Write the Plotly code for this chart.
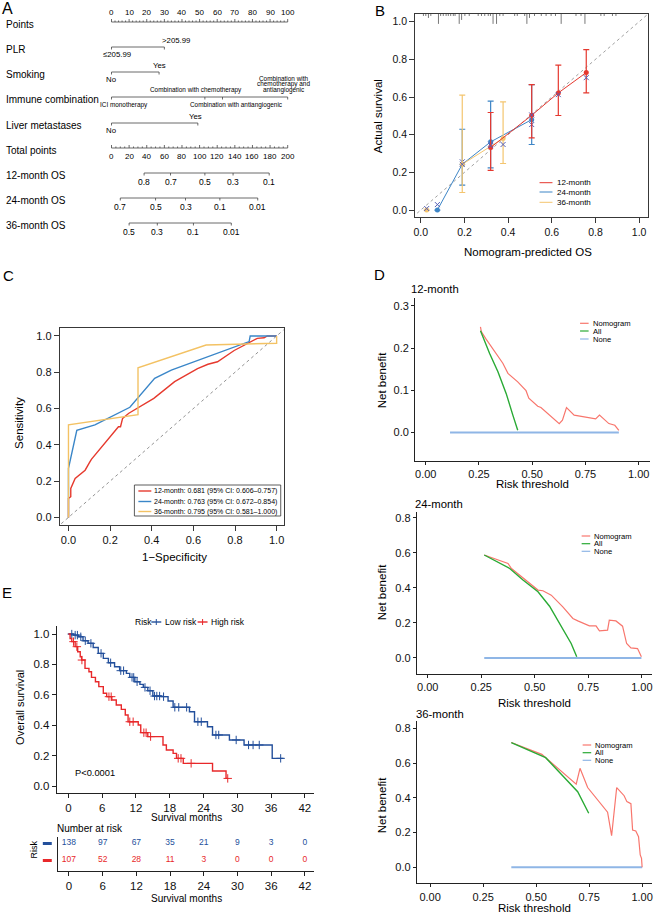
import numpy as np
import plotly.graph_objects as go

W, H = 658, 915
FONT = "Liberation Sans, Arial, Helvetica, sans-serif"

# ======================= DATA =======================
# ---- A: nomogram ----
points_ticks = [0, 10, 20, 30, 40, 50, 60, 70, 80, 90, 100]
plr_levels = ["≤205.99", ">205.99"]
plr_points = [0, 30]
smoking_levels = ["No", "Yes"]
smoking_points = [0, 27]
immune_levels = ["ICI monotherapy", "Combination with chemotherapy",
                 "Combination with antiangiogenic",
                 "Combination with<br>chemotherapy and<br>antiangiogenic"]
immune_points = [0, 53, 63, 100]
liver_levels = ["No", "Yes"]
liver_points = [0, 49]
total_ticks = [0, 20, 40, 60, 80, 100, 120, 140, 160, 180, 200]
os12_labels = ["0.8", "0.7", "0.5", "0.3", "0.1"]
os12_total = [37, 67, 106, 138, 179]
os24_labels = ["0.7", "0.5", "0.3", "0.1", "0.01"]
os24_total = [10, 50, 84, 123, 166]
os36_labels = ["0.5", "0.3", "0.1", "0.01"]
os36_total = [20, 52, 93, 136]

# ---- B: calibration ----
cal12_pred = [0.320, 0.508, 0.630, 0.758]
cal12_obs = [0.332, 0.503, 0.622, 0.730]
cal12_lo = [0.211, 0.383, 0.502, 0.622]
cal12_hi = [0.518, 0.666, 0.769, 0.852]
cal12_bc = [0.342, 0.505, 0.613, 0.703]
cal24_pred = [0.076, 0.190, 0.320, 0.508]
cal24_obs = [0.000, 0.243, 0.362, 0.480]
cal24_lo = [0.000, 0.132, 0.224, 0.348]
cal24_hi = [0.000, 0.429, 0.578, 0.666]
cal24_bc = [0.029, 0.256, 0.350, 0.454]
cal36_pred = [0.027, 0.190, 0.377]
cal36_obs = [0.000, 0.243, 0.380]
cal36_lo = [0.000, 0.093, 0.247]
cal36_hi = [0.000, 0.610, 0.574]
cal36_bc = [0.008, 0.243, 0.348]
rug_pred = [0.012, 0.023, 0.035, 0.046, 0.081, 0.091, 0.103, 0.116, 0.126, 0.137,
            0.149, 0.157, 0.176, 0.187, 0.202, 0.222, 0.263, 0.278, 0.293, 0.309,
            0.319, 0.331, 0.347, 0.362, 0.377, 0.430, 0.442, 0.476, 0.486, 0.498,
            0.521, 0.552, 0.574, 0.597, 0.617, 0.643, 0.711, 0.734, 0.752, 0.825,
            0.840, 0.878, 0.894]
rug_count = [1, 1, 2, 1, 5, 1, 1, 1, 1, 1,
             1, 1, 5, 3, 1, 1, 1, 1, 1, 1,
             1, 5, 5, 1, 1, 1, 1, 1, 5, 2,
             1, 1, 1, 1, 1, 5, 1, 1, 5, 1,
             1, 1, 1]

# ---- C: ROC ----
roc12_fpr = [0, 0, 0.011, 0.011, 0.032, 0.08, 0.10, 0.11, 0.24, 0.25, 0.26, 0.29, 0.41,
             0.51, 0.62, 0.67, 0.716, 0.796, 0.907, 0.94, 0.955, 1.0]
roc12_tpr = [0, 0.105, 0.114, 0.16, 0.215, 0.26, 0.30, 0.32, 0.50, 0.50, 0.546, 0.574, 0.656,
             0.748, 0.82, 0.844, 0.858, 0.92, 0.987, 0.99, 1.0, 1.0]
roc24_fpr = [0, 0, 0.04, 0.127, 0.295, 0.414, 0.494, 0.868, 0.873, 1.0]
roc24_tpr = [0, 0.27, 0.48, 0.51, 0.607, 0.767, 0.812, 0.969, 1.0, 1.0]
roc36_fpr = [0, 0, 0.334, 0.334, 0.661, 1.0, 1.0]
roc36_tpr = [0, 0.51, 0.566, 0.825, 0.95, 0.96, 1.0]
roc_labels = ["12-month: 0.681 (95% CI: 0.606–0.757)",
              "24-month: 0.763 (95% CI: 0.672–0.854)",
              "36-month: 0.795 (95% CI: 0.581–1.000)"]

# ---- D: decision curves ----
dca12_nom_x = [0.257, 0.261, 0.281, 0.292, 0.362, 0.386, 0.432, 0.471, 0.484, 0.526, 0.541,
               0.627, 0.642, 0.661, 0.697, 0.798, 0.816, 0.860, 0.888, 0.907]
dca12_nom_y = [0.250, 0.239, 0.223, 0.215, 0.164, 0.140, 0.120, 0.099, 0.081, 0.062, 0.059,
               0.021, 0.029, 0.059, 0.041, 0.032, 0.041, 0.021, 0.017, 0.005]
dca12_all_x = [0.257, 0.300, 0.339, 0.378, 0.409, 0.432]
dca12_all_y = [0.241, 0.187, 0.144, 0.092, 0.041, 0.005]
dca12_none_x = [0.114, 0.907]
dca24_nom_x = [0.264, 0.375, 0.391, 0.515, 0.538, 0.577, 0.631, 0.678, 0.701, 0.755, 0.786,
               0.802, 0.840, 0.848, 0.879, 0.910, 0.929, 0.949, 0.980, 0.998]
dca24_nom_y = [0.587, 0.539, 0.510, 0.387, 0.383, 0.358, 0.291, 0.225, 0.211, 0.183, 0.183,
               0.154, 0.158, 0.215, 0.211, 0.181, 0.082, 0.057, 0.053, 0.006]
dca24_all_x = [0.264, 0.383, 0.445, 0.515, 0.569, 0.631, 0.670, 0.696]
dca24_all_y = [0.587, 0.510, 0.444, 0.377, 0.295, 0.168, 0.082, 0.006]
dca24_none_x = [0.264, 0.998]
dca36_nom_x = [0.383, 0.527, 0.689, 0.707, 0.743, 0.837, 0.856, 0.880, 0.915, 0.928, 0.947,
               0.955, 0.970, 0.983, 0.991, 0.997, 1.000]
dca36_nom_y = [0.718, 0.650, 0.478, 0.570, 0.459, 0.317, 0.182, 0.459, 0.412, 0.378, 0.366,
               0.215, 0.209, 0.176, 0.071, 0.052, 0.000]
dca36_all_x = [0.383, 0.545, 0.696, 0.748]
dca36_all_y = [0.718, 0.631, 0.435, 0.311]
dca36_none_x = [0.383, 1.000]

# ---- E: Kaplan-Meier ----
km_low_t = [0, 0.9, 1.8, 2.6, 3.5, 4.4, 5.3, 6.2, 7.1, 8.2, 9.1, 10.3, 10.9, 11.8, 12.7,
            13.3, 14.1, 15.0, 16.5, 17.7, 18.6, 21.5, 22.4, 24.7, 25.6, 28.6, 31.2, 36.2]
km_low_s = [1.0, 0.993, 0.982, 0.956, 0.939, 0.912, 0.873, 0.84, 0.811, 0.785, 0.759, 0.741,
            0.715, 0.686, 0.669, 0.649, 0.627, 0.592, 0.588, 0.559, 0.518, 0.489, 0.423,
            0.39, 0.336, 0.303, 0.27, 0.182]
km_low_end = 38.2
km_low_cens = [0.6, 1.2, 1.6, 2.2, 3.0, 4.0, 5.8, 7.5, 9.3, 9.8, 11.3, 11.6, 12.2, 13.6,
               14.5, 15.3, 15.7, 16.2, 16.9, 18.9, 19.6, 21.0, 23.0, 23.6, 26.2, 26.7,
               29.8, 32.0, 32.8, 33.9, 37.7]
km_high_t = [0, 0.3, 0.6, 1.2, 1.65, 2.1, 2.35, 2.95, 3.65, 4.1, 4.8, 5.4, 6.2, 6.8, 7.7,
             8.5, 9.4, 10.1, 10.6, 12.4, 12.85, 14.1, 16.8, 17.4, 18.6, 19.2, 20.4, 25.6, 28.0]
km_high_s = [1.0, 0.971, 0.95, 0.917, 0.884, 0.851, 0.829, 0.774, 0.752, 0.715, 0.686,
             0.654, 0.61, 0.588, 0.566, 0.533, 0.504, 0.467, 0.423, 0.401, 0.351, 0.325,
             0.27, 0.237, 0.215, 0.182, 0.149, 0.099, 0.05]
km_high_end = 28.3
km_high_cens = [0.9, 1.5, 2.4, 7.2, 7.6, 10.9, 11.5, 13.4, 13.8, 14.6, 19.5, 20.0, 21.8, 28.3]
risk_times = [0, 6, 12, 18, 24, 30, 36, 42]
risk_low = [138, 97, 67, 35, 21, 9, 3, 0]
risk_high = [107, 52, 28, 11, 3, 0, 0, 0]

# ======================= FIGURE =======================
fig = go.Figure()
ann, shp = [], []


def A(text, x, y, xref="paper", yref="paper", size=10, xanchor="center",
      yanchor="middle", color="black", angle=0, xshift=0):
    if xref == "paper":
        x = x / W
    if yref == "paper":
        y = 1 - y / H
    ann.append(dict(text=text, x=x, y=y, xref=xref, yref=yref, showarrow=False,
                    font=dict(family=FONT, size=size, color=color), xanchor=xanchor,
                    yanchor=yanchor, textangle=angle, xshift=xshift, borderpad=0))


def seg_trace(segs, xa, ya, color="#444", width=0.8):
    xs, ys = [], []
    for x0, y0, x1, y1 in segs:
        xs += [x0, x1, None]
        ys += [y0, y1, None]
    fig.add_trace(go.Scatter(x=xs, y=ys, mode="lines", line=dict(color=color, width=width),
                             xaxis=xa, yaxis=ya, showlegend=False, hoverinfo="skip"))


def pline(x0, y0, x1, y1, color, width=1.2, dash=None):
    shp.append(dict(type="line", xref="paper", yref="paper", x0=x0 / W, x1=x1 / W,
                    y0=1 - y0 / H, y1=1 - y1 / H, line=dict(color=color, width=width, dash=dash)))


# ---------------- Panel A: nomogram ----------------
ROW = {"Points": 22, "PLR": 47, "Smoking": 72, "Immune combination": 97,
       "Liver metastases": 123, "Total points": 148, "12-month OS": 173,
       "24-month OS": 198, "36-month OS": 223}
for name, yy in ROW.items():
    A(name, 3, yy + 2, yref="y", size=10, xanchor="left")

# Points axis
segs = [(0, ROW["Points"], 100, ROW["Points"])]
segs += [(t, ROW["Points"], t, ROW["Points"] - 3) for t in points_ticks]
segs += [(t, ROW["Points"], t, ROW["Points"] - 1.5) for t in range(0, 101, 2) if t % 10]
seg_trace(segs, "x", "y")
for t in points_ticks:
    A(str(t), t, ROW["Points"] - 4, xref="x", yref="y", size=8, yanchor="bottom")


def level_row(yline, pts, labels, shifts, size):
    s = [(min(pts), yline, max(pts), yline)] + [(p, yline, p, yline + 2.5) for p in pts]
    seg_trace(s, "x", "y")
    for i, (p, lab, sh) in enumerate(zip(pts, labels, shifts)):
        lines = lab.split("<br>")
        n = len(lines)
        for k, ln in enumerate(lines):
            if i % 2 == 0:
                yc = yline + 7.5 + 6 * k
            else:
                yc = yline - 7 - 6 * (n - 1 - k)
            A(ln, p, yc, xref="x", yref="y", size=size, xshift=sh)


level_row(ROW["PLR"], plr_points, plr_levels, [5, 12], 7.8)
level_row(ROW["Smoking"], smoking_points, smoking_levels, [0, 0], 7.8)
level_row(ROW["Immune combination"], immune_points, immune_levels, [12, -9, 14, -4], 6.4)
level_row(ROW["Liver metastases"], liver_points, liver_levels, [0, -2], 7.8)

# Total points axis (on overlay axis x2)
yt = ROW["Total points"]
segs = [(0, yt, 200, yt)]
segs += [(t, yt, t, yt - 3) for t in total_ticks]
segs += [(t, yt, t, yt - 1.5) for t in range(0, 201, 5) if t % 20]
seg_trace(segs, "x2", "y")
for t in total_ticks:
    A(str(t), t, yt + 3, xref="x2", yref="y", size=8, yanchor="top")


def os_row(yline, totals, labels):
    s = [(min(totals), yline, max(totals), yline)] + [(t, yline, t, yline + 2.5) for t in totals]
    seg_trace(s, "x2", "y")
    for t, lab in zip(totals, labels):
        A(lab, t, yline + 3, xref="x2", yref="y", size=8.5, yanchor="top")


os_row(ROW["12-month OS"], os12_total, os12_labels)
os_row(ROW["24-month OS"], os24_total, os24_labels)
os_row(ROW["36-month OS"], os36_total, os36_labels)

# ---------------- Panel B: calibration ----------------
C_RED, C_BLUE, C_YEL, C_X = "#e5382f", "#3d85c6", "#f4c56f", "#5560b8"
fig.add_trace(go.Scatter(x=[-0.1, 1.1], y=[-0.1, 1.1], mode="lines", xaxis="x3", yaxis="y3",
                         line=dict(color="#888", width=0.8, dash="dot"), showlegend=False))
rug_top = 1.041
seg_trace([(x, rug_top, x, rug_top - 0.0105 * n) for x, n in zip(rug_pred, rug_count)],
          "x3", "y3", color="#555", width=0.8)


def cal_series(pred, obs, lo, hi, bc, color, line_from=0):
    fig.add_trace(go.Scatter(x=pred[line_from:], y=obs[line_from:], mode="lines",
                             line=dict(color=color, width=1), xaxis="x3", yaxis="y3",
                             showlegend=False, hoverinfo="skip"))
    plus = [h - o if h > o else None for h, o in zip(hi, obs)]
    minus = [o - l if h > o else None for h, o, l in zip(hi, obs, lo)]
    fig.add_trace(go.Scatter(x=pred, y=obs, mode="markers",
                             marker=dict(color=color, size=5),
                             error_y=dict(type="data", array=plus, arrayminus=minus,
                                          symmetric=False, color=color, thickness=1.2, width=3),
                             xaxis="x3", yaxis="y3", showlegend=False))
    fig.add_trace(go.Scatter(x=pred, y=bc, mode="markers",
                             marker=dict(symbol="x-thin-open", size=5, color=C_X,
                                         line=dict(color=C_X, width=1)),
                             xaxis="x3", yaxis="y3", showlegend=False))


cal_series(cal24_pred, cal24_obs, cal24_lo, cal24_hi, cal24_bc, C_BLUE)
cal_series(cal36_pred, cal36_obs, cal36_lo, cal36_hi, cal36_bc, C_YEL, line_from=1)
cal_series(cal12_pred, cal12_obs, cal12_lo, cal12_hi, cal12_bc, C_RED)

for lab, col, yy in zip(["12-month", "24-month", "36-month"], [C_RED, C_BLUE, C_YEL],
                        [182.7, 192, 202.3]):
    pline(540, yy, 553, yy, col, 1)
    A(lab, 556.5, yy, size=8, xanchor="left")

# ---------------- Panel C: ROC ----------------
R_RED, R_BLUE, R_YEL = "#e63a2e", "#3a86c8", "#f3c264"
fig.add_trace(go.Scatter(x=[-0.1, 1.1], y=[-0.1, 1.1], mode="lines", xaxis="x4", yaxis="y4",
                         line=dict(color="#777", width=0.8, dash="dot"), showlegend=False))
for fx, ty, col in [(roc12_fpr, roc12_tpr, R_RED), (roc24_fpr, roc24_tpr, R_BLUE),
                    (roc36_fpr, roc36_tpr, R_YEL)]:
    fig.add_trace(go.Scatter(x=fx, y=ty, mode="lines", line=dict(color=col, width=1.4),
                             xaxis="x4", yaxis="y4", showlegend=False))
shp.append(dict(type="rect", xref="paper", yref="paper", x0=133 / W, x1=280 / W,
                y0=1 - 516 / H, y1=1 - 485 / H, line=dict(color="#333", width=0.8),
                fillcolor="white"))
for lab, col, yy in zip(roc_labels, [R_RED, R_BLUE, R_YEL], [491, 501.5, 511.5]):
    pline(137, yy, 150, yy, col, 1.4)
    A(lab, 152, yy, size=7, xanchor="left")

# ---------------- Panel D: decision curves ----------------
D_NOM, D_ALL, D_NONE = "#f8766d", "#2aaa35", "#8fb6e6"
for (nx, ny, ax_, ay_, nonex, xa, ya) in [
        (dca12_nom_x, dca12_nom_y, dca12_all_x, dca12_all_y, dca12_none_x, "x5", "y5"),
        (dca24_nom_x, dca24_nom_y, dca24_all_x, dca24_all_y, dca24_none_x, "x6", "y6"),
        (dca36_nom_x, dca36_nom_y, dca36_all_x, dca36_all_y, dca36_none_x, "x7", "y7")]:
    fig.add_trace(go.Scatter(x=nonex, y=[0, 0], mode="lines", line=dict(color=D_NONE, width=2),
                             xaxis=xa, yaxis=ya, showlegend=False))
    fig.add_trace(go.Scatter(x=nx, y=ny, mode="lines", line=dict(color=D_NOM, width=1.2),
                             xaxis=xa, yaxis=ya, showlegend=False))
    fig.add_trace(go.Scatter(x=ax_, y=ay_, mode="lines", line=dict(color=D_ALL, width=1.4),
                             xaxis=xa, yaxis=ya, showlegend=False))

for (x0, ys) in [(580.7, [323.3, 331, 339]), (582.3, [536, 543.7, 551.3]),
                 (583.3, [745, 752.7, 760.3])]:
    for lab, col, yy in zip(["Nomogram", "All", "None"], [D_NOM, D_ALL, D_NONE], ys):
        pline(x0, yy, x0 + 8.6, yy, col, 1.2)
        A(lab, x0 + 11.5, yy, size=7.6, xanchor="left")

A("12-month", 410, 289, size=11.3, xanchor="left")
A("24-month", 414, 504, size=11.3, xanchor="left")
A("36-month", 415, 714, size=11.3, xanchor="left")
for yc in [380, 592, 805]:
    A("Net benefit", 382, yc, size=11.5, angle=-90)
A("Risk threshold", 533, 484, size=11.5)
A("Risk threshold", 535, 703, size=11.5)
A("Risk threshold", 535, 908, size=11.5)

# ---------------- Panel E: Kaplan-Meier ----------------
E_BLUE, E_RED = "#234f9b", "#e8282a"


def km_series(t, s, tend, cens, col):
    fig.add_trace(go.Scatter(x=t + [tend], y=s + [s[-1]], mode="lines", line_shape="hv",
                             line=dict(color=col, width=1.4), xaxis="x8", yaxis="y8",
                             showlegend=False))
    ta, sa = np.array(t), np.array(s)
    cy = [float(sa[np.searchsorted(ta, c, side="right") - 1]) for c in cens]
    fig.add_trace(go.Scatter(x=cens, y=cy, mode="markers",
                             marker=dict(symbol="cross-thin-open", size=6, color=col,
                                         line=dict(color=col, width=1)),
                             xaxis="x8", yaxis="y8", showlegend=False))


km_series(km_low_t, km_low_s, km_low_end, km_low_cens, E_BLUE)
km_series(km_high_t, km_high_s, km_high_end, km_high_cens, E_RED)

fig.add_trace(go.Scatter(x=risk_times, y=[1] * len(risk_times), mode="text",
                         text=[str(v) for v in risk_low],
                         textfont=dict(family=FONT, size=8.5, color=E_BLUE),
                         xaxis="x9", yaxis="y9", showlegend=False))
fig.add_trace(go.Scatter(x=risk_times, y=[0] * len(risk_times), mode="text",
                         text=[str(v) for v in risk_high],
                         textfont=dict(family=FONT, size=8.5, color=E_RED),
                         xaxis="x9", yaxis="y9", showlegend=False))

# E legend
A("Risk", 133, 622, size=8.5, xanchor="left")
pline(150, 622, 160, 622, E_BLUE, 1.4)
pline(155, 619, 155, 625, E_BLUE, 1)
A("Low risk", 162.5, 622, size=8.5, xanchor="left")
pline(196.5, 622, 206.5, 622, E_RED, 1.4)
pline(201.5, 619, 201.5, 625, E_RED, 1)
A("High risk", 208.5, 622, size=8.5, xanchor="left")
A("P<0.0001", 72, 772.7, size=9.3, xanchor="left")
A("Overall survival", 18, 707, size=11, angle=-90)
A("Survival months", 185, 817.5, size=10)
A("Number at risk", 54, 828.8, size=10, xanchor="left")
shp.append(dict(type="rect", xref="paper", yref="paper", x0=41 / W, x1=50 / W,
                y0=1 - 845 / H, y1=1 - 842 / H, line=dict(width=0), fillcolor=E_BLUE))
shp.append(dict(type="rect", xref="paper", yref="paper", x0=41 / W, x1=50 / W,
                y0=1 - 862 / H, y1=1 - 859 / H, line=dict(width=0), fillcolor=E_RED))
A("Risk", 31.7, 850, size=9, angle=-90)
A("Survival months", 185, 898.5, size=10)

# Panel letters
A("A", 6, 9, size=16)
A("B", 380, 10, size=15)
A("C", 7, 275, size=15)
A("D", 379, 274, size=15)
A("E", 5, 592.5, size=15)
A("Actual survival", 378, 116, size=11.5, angle=-90)
A("Nomogram-predicted OS", 528, 252, size=11.5)
A("Sensitivity", 17, 423, size=11.5, angle=-90)
A("1−Specificity", 173, 557, size=11.5)

# ======================= AXES =======================
def dom_x(a, b):
    return [a / W, b / W]


def dom_y(top, bottom):
    return [1 - bottom / H, 1 - top / H]


hidden = dict(visible=False, showgrid=False, zeroline=False, fixedrange=True)


def box_axis(dom, rng, tickvals, fmt, anchor, size, mirror=True, ticklen=5, lw=1):
    return dict(domain=dom, range=rng, autorange=False, tickvals=tickvals, tickformat=fmt,
                ticks="outside", ticklen=ticklen, tickwidth=lw, tickcolor="#222",
                showline=True, linecolor="#222", linewidth=lw, mirror=mirror,
                showgrid=False, zeroline=False, anchor=anchor,
                tickfont=dict(family=FONT, size=size, color="#111"))


layout = dict(
    width=W, height=H, autosize=False, margin=dict(l=0, r=0, t=0, b=0, pad=0),
    paper_bgcolor="white", plot_bgcolor="rgba(0,0,0,0)", showlegend=False,
    font=dict(family=FONT),
    xaxis=dict(domain=dom_x(0, 315), range=[-110 / 1.77, 205 / 1.77], anchor="y", **hidden),
    yaxis=dict(domain=dom_y(0, 265), range=[265, 0], anchor="x", **hidden),
    xaxis2=dict(overlaying="x", range=[-220 / 1.77, 410 / 1.77], anchor="y", **hidden),
    xaxis3=box_axis(dom_x(415, 649), [-0.026, 1.041], [0, .2, .4, .6, .8, 1], ".1f", "y3", 10.5, lw=0.9),
    yaxis3=box_axis(dom_y(14, 217), [-0.037, 1.041], [0, .2, .4, .6, .8, 1], ".1f", "x3", 10.5, lw=0.9),
    xaxis4=box_axis(dom_x(58, 283), [-0.042, 1.034], [0, .2, .4, .6, .8, 1], ".1f", "y4", 11, lw=0.9),
    yaxis4=box_axis(dom_y(328, 525), [-0.042, 1.044], [0, .2, .4, .6, .8, 1], ".1f", "x4", 11, lw=0.9),
    xaxis5=box_axis(dom_x(415, 650.7), [-0.05, 1.052], [0, .25, .5, .75, 1], ".2f", "y5", 11, False, 3),
    yaxis5=box_axis(dom_y(298.3, 460.7), [-0.067, 0.318], [0, .1, .2, .3], ".1f", "x5", 11, False, 3),
    xaxis6=box_axis(dom_x(416.7, 653.3), [-0.051, 1.049], [0, .25, .5, .75, 1], ".2f", "y6", 11, False, 3),
    yaxis6=box_axis(dom_y(511.7, 673.5), [-0.089, 0.834], [0, .2, .4, .6, .8], ".1f", "x6", 11, False, 3),
    xaxis7=box_axis(dom_x(416.7, 653.3), [-0.0627, 1.048], [0, .25, .5, .75, 1], ".2f", "y7", 11, False, 3),
    yaxis7=box_axis(dom_y(721, 883.3), [-0.092, 0.842], [0, .2, .4, .6, .8], ".1f", "x7", 11, False, 3),
    xaxis8=box_axis(dom_x(55, 313.3), [-2.07, 43.6], risk_times, "d", "y8", 11.5, False, 4),
    yaxis8=box_axis(dom_y(626, 793.3), [-0.048, 1.053], [0, .2, .4, .6, .8, 1], ".1f", "x8", 11.5, False, 4),
    xaxis9=box_axis(dom_x(56, 313.3), [-2.0, 43.6], risk_times, "d", "y9", 11.5, False, 4),
    yaxis9=dict(domain=dom_y(836.7, 870.7), range=[-0.612, 1.388], autorange=False,
                showticklabels=False, ticks="", showline=True, linecolor="#222", linewidth=1,
                showgrid=False, zeroline=False, anchor="x9"),
    annotations=ann, shapes=shp,
)
fig.update_layout(**layout)
fig.write_html("out.html", config={"staticPlot": True, "displayModeBar": False},
               post_script="document.body.style.margin='0';")
